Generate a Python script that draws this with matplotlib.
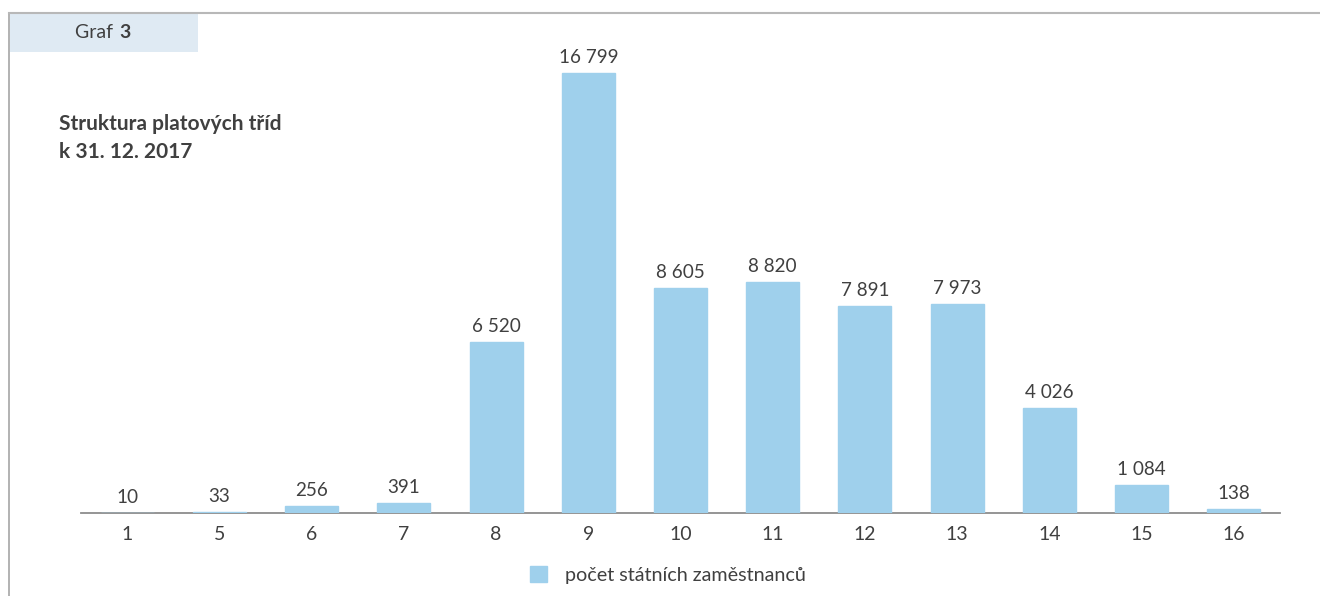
import matplotlib
matplotlib.use("Agg")
import matplotlib.pyplot as plt
from matplotlib.patches import Rectangle
from matplotlib.lines import Line2D

categories = ["1", "5", "6", "7", "8", "9", "10", "11", "12", "13", "14", "15", "16"]
employees = [10, 33, 256, 391, 6520, 16799, 8605, 8820, 7891, 7973, 4026, 1084, 138]
series_label = "počet státních zaměstnanců"
title_lines = ["Struktura platových tříd", "k 31. 12. 2017"]

BAR = "#9fd0ec"
TEXT = "#404040"
plt.rcParams["font.family"] = ["Lato", "DejaVu Sans"]

W, H = 1320, 596
fig = plt.figure(figsize=(W / 100, H / 100), dpi=100)

def fx(px):
    return px / W

def fy(py):
    return 1 - py / H

# page frame: left and top rules
fig.add_artist(Line2D([fx(9), fx(9)], [fy(13), 0], color="#a6a6a6", lw=1.2))
fig.add_artist(Line2D([fx(9), 1], [fy(13), fy(13)], color="#b8b8b8", lw=1.5))
# caption tab
fig.add_artist(Rectangle((fx(9.5), fy(52)), fx(198 - 9.5), fy(13.8) - fy(52),
                         facecolor="#dfeaf3", edgecolor="none"))
graf = fig.text(fx(75), fy(32), "Graf ", fontsize=14, color=TEXT, va="center", ha="left")
fig.canvas.draw()
bb = graf.get_window_extent()
fig.text(bb.x1 / W + 0.001, fy(32), "3", fontsize=14, color=TEXT, va="center",
         ha="left", fontweight="bold")
fig.text(fx(59), fy(124), title_lines[0], fontsize=15, color=TEXT,
         fontweight="bold", va="center", ha="left")
fig.text(fx(59), fy(152), title_lines[1], fontsize=15, color=TEXT,
         fontweight="bold", va="center", ha="left")

ax = fig.add_axes([fx(81), fy(513), fx(1280 - 81), (513 - 60) / H])
x = list(range(len(categories)))
bars = ax.bar(x, employees, width=0.575, color=BAR, edgecolor=BAR, linewidth=1.0,
              label=series_label, zorder=3)
ax.set_xlim(-0.5, len(categories) - 0.5)
ax.set_ylim(0, 16799 * 453 / 440)

for xi, v in zip(x, employees):
    lbl = f"{v:,}".replace(",", " ")
    ax.annotate(lbl, (xi, v), xytext=(0, 5), textcoords="offset points",
                ha="center", va="bottom", fontsize=13.6, color=TEXT)

for s in ["top", "right", "left"]:
    ax.spines[s].set_visible(False)
ax.spines["bottom"].set_color("#8c8c8c")
ax.spines["bottom"].set_linewidth(1.3)
ax.spines["bottom"].set_zorder(2)
ax.set_yticks([])
ax.set_xticks(x)
ax.set_xticklabels(categories, fontsize=14, color=TEXT)
ax.tick_params(axis="x", length=0, pad=9)

leg = fig.legend(handles=[bars], labels=[series_label], loc="center",
                 bbox_to_anchor=(fx(668), fy(575)), frameon=False,
                 fontsize=14.2, handlelength=0.85, handleheight=0.85,
                 handletextpad=0.9, labelcolor=TEXT)

fig.savefig("out.png", dpi=100)
